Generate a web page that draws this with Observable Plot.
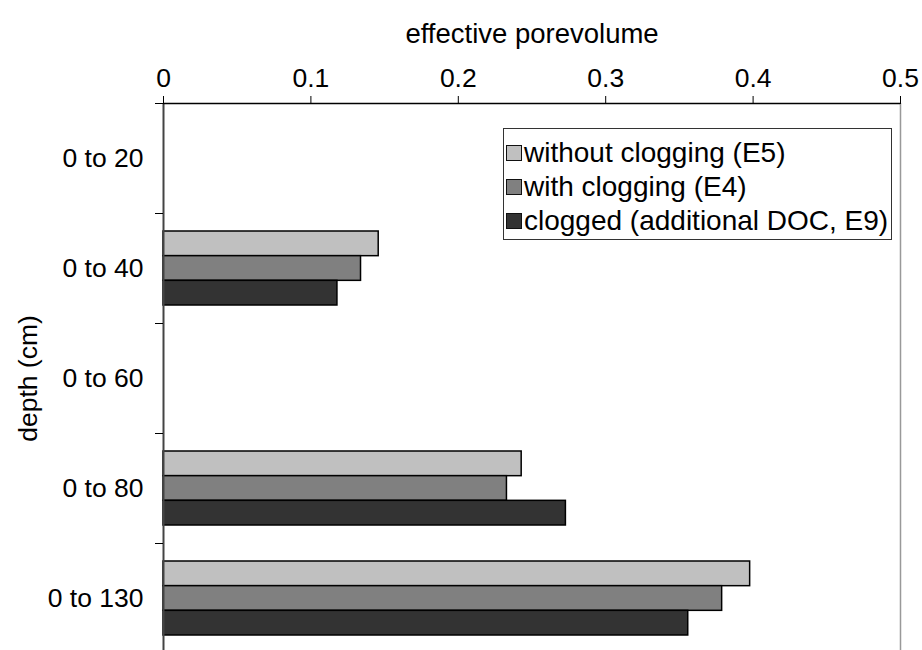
<!DOCTYPE html>
<html>
<head>
<meta charset="utf-8">
<script src="https://cdn.jsdelivr.net/npm/d3@7"></script>
<script src="https://cdn.jsdelivr.net/npm/@observablehq/plot@0.6"></script>
<style>
  html, body { margin: 0; padding: 0; background: #fff; }
  #wrap { position: relative; width: 922px; height: 650px; overflow: hidden; font-family: "Liberation Sans", Arial, Helvetica, sans-serif; }
  #legend { position: absolute; left: 503px; top: 128px; width: 389px; height: 112px; border: 1px solid #333; background: #fff; box-sizing: border-box; padding: 7px 0 0 2px; }
  .row { display: flex; align-items: center; height: 34px; font-size: 28px; color: #000; white-space: nowrap; }
  .sw { width: 14px; height: 14px; border: 1.5px solid #111; margin-right: 2px; flex: none; }
</style>
</head>
<body>
<div id="wrap">
  <div id="chart"></div>
  <div id="legend"></div>
</div>
<script>
const depths = ["0 to 20", "0 to 40", "0 to 60", "0 to 80", "0 to 130"];
const seriesNames = ["without clogging (E5)", "with clogging (E4)", "clogged (additional DOC, E9)"];
const withoutClogging = [null, 0.146, null, 0.243, 0.398];
const withClogging    = [null, 0.134, null, 0.233, 0.379];
const clogged         = [null, 0.118, null, 0.273, 0.356];
const colors = ["#c0c0c0", "#808080", "#333333"];
const xTicks = [0, 0.1, 0.2, 0.3, 0.4, 0.5];

const seriesValues = [withoutClogging, withClogging, clogged];

const W = 922, H = 650;
const mTop = 103, mBottom = -3, mLeft = 163, mRight = 22;
const step = (H - mTop - mBottom) / depths.length;
const groupInset = 18;
const barH = (step - 2 * groupInset) / 3;

const barMarks = seriesValues.map((vals, i) => {
  const rows = depths.map((d, j) => ({depth: d, value: vals[j]})).filter(r => r.value != null);
  return Plot.barX(rows, {
    x: "value", y: "depth",
    fill: colors[i], stroke: "#000", strokeWidth: 1.5,
    insetTop: groupInset + i * barH,
    insetBottom: step - groupInset - (i + 1) * barH
  });
});

const chart = Plot.plot({
  width: W, height: H,
  marginTop: mTop, marginBottom: mBottom, marginLeft: mLeft, marginRight: mRight,
  style: {fontFamily: '"Liberation Sans", Arial, Helvetica, sans-serif', fontSize: "26px", color: "#000", background: "#fff"},
  x: {domain: [0, 0.5]},
  y: {domain: depths, padding: 0},
  marks: [
    ...barMarks,
    Plot.ruleX([0], {stroke: "#444", strokeWidth: 2}),
    Plot.ruleX([0.5], {stroke: "#999", strokeWidth: 1.5}),
    Plot.ruleY([depths[0]], {stroke: "#000", strokeWidth: 1.5, dy: -step / 2}),
    Plot.axisX({anchor: "top", ticks: xTicks, tickSize: 8, tickPadding: 9, tickFormat: d => String(d),
      fontSize: 26.5, label: null}),
    Plot.axisX({anchor: "top", ticks: [], tickSize: 0, fontSize: 27.5,
      label: "effective porevolume", labelAnchor: "center", labelOffset: 80, labelArrow: "none"}),
    Plot.axisY({anchor: "left", tickSize: 0, tickPadding: 20, fontSize: 26.5,
      label: "depth (cm)", labelAnchor: "center", labelOffset: 145, labelArrow: "none"}),
    Plot.axisY({anchor: "left", ticks: depths, tickSize: 8, text: null, label: null, dy: -step / 2, stroke: "#000"})
  ]
});
document.getElementById("chart").appendChild(chart);

const legend = document.getElementById("legend");
seriesNames.forEach((name, i) => {
  const row = document.createElement("div");
  row.className = "row";
  const sw = document.createElement("span");
  sw.className = "sw";
  sw.style.background = colors[i];
  const t = document.createElement("span");
  t.textContent = name;
  row.appendChild(sw);
  row.appendChild(t);
  legend.appendChild(row);
});
</script>
</body>
</html>
